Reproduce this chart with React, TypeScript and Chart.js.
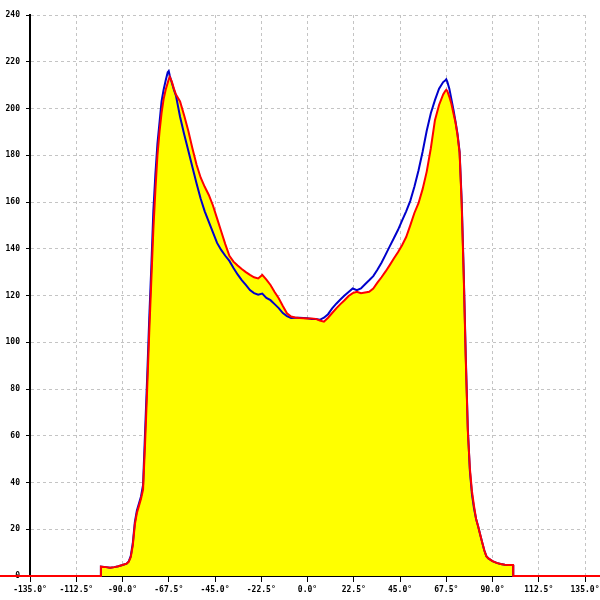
import React, { useEffect, useRef } from "react";
import { Chart, registerables } from "chart.js";

Chart.register(...registerables);

const angles = [
  -180, -100.6, -100.5, -98, -96, -94, -92, -90, -88, -87,
  -86, -85, -84, -83, -82, -81, -80, -79, -78, -77,
  -76, -75, -74, -73, -72, -71, -70, -69, -68, -67.5,
  -67, -66, -65, -64, -62, -60, -58, -56, -54, -52,
  -50, -48, -46, -44, -42, -40, -38, -36, -34, -32,
  -30, -28, -26, -24, -22, -20, -18, -16, -14, -12,
  -10, -8, -6, -4, -2, 0, 2, 4, 6, 8,
  10, 12, 14, 16, 18, 20, 22, 24, 26, 28,
  30, 32, 34, 36, 38, 40, 42, 44, 46, 48,
  50, 52, 54, 56, 58, 60, 62, 64, 66, 67,
  67.5, 68, 69, 70, 71, 72, 73, 74, 75, 76,
  77, 78, 79, 80, 81, 82, 83, 84, 85, 86,
  87, 88, 90, 92, 94, 96, 98, 100, 100.1, 180,
];

const redValues = [
  0, 0, 4, 3.8, 3.5, 3.8, 4.2, 4.7, 5.3, 6,
  8, 13, 22, 27, 30, 33, 37, 57, 80, 104,
  126, 148, 165, 180, 190, 198, 204, 208, 211, 212.5,
  213.5, 211.5, 208.5, 206, 203, 197, 190.5, 183, 176, 170.5,
  166.5, 163, 158.5, 153, 147.5, 142, 137, 134.5, 132.8, 131.3,
  130, 128.8, 127.8, 127.3, 128.8, 126.8, 124.5, 121.5, 118.8, 115.5,
  112.4, 111, 110.6, 110.4, 110.3, 110.2, 110.2, 110, 109.3, 108.8,
  110.5, 112.5, 114.5, 116.3, 118, 119.8, 121, 121.6, 121, 121.3,
  121.6, 123, 125.5, 127.8, 130.3, 133, 135.8, 138.5, 141.5, 145,
  150, 155.3, 159.5, 165.5, 173, 183, 195, 201.5, 206, 207.5,
  208, 207.5, 205, 202, 198, 194, 188.5, 181, 159.4, 128.5,
  92.5, 62, 46, 36.3, 30, 24.5, 21.3, 17.8, 14.3, 11,
  8.5, 7.5, 6.4, 5.6, 5.1, 4.8, 4.7, 4.7, 0, 0,
];

const blueValues = [
  0, 0, 4, 3.8, 3.5, 3.8, 4.2, 4.7, 5.3, 6.2,
  8.5, 14, 23, 28, 31, 34, 39, 62, 85, 110,
  132, 156, 172, 185, 194, 203, 208, 212, 215.5, 216,
  214, 211, 208, 205.5, 196.5, 189, 182, 175, 168, 161.5,
  156, 151.5, 147, 142.5, 139.5, 137, 134.8, 131.8, 129, 126.6,
  124.5, 122.3, 121, 120.3, 120.8, 119, 118, 116.3, 114.6, 112.5,
  111.2, 110.4, 110.5, 110.5, 110.4, 110.3, 110, 110, 109.6, 110.5,
  112, 114.5, 116.5, 118.3, 120, 121.5, 123, 122.3, 123, 124.8,
  126.5, 128.3, 131, 134, 137.5, 141, 144.5, 148, 152, 156,
  160.5, 166.5, 173.5, 181.5, 190.5, 198, 203.6, 208.5, 211.3, 212,
  212.5, 211.5, 208.5, 204, 199.5, 194.5, 189, 181.5, 161, 130,
  94, 63, 45, 35, 29, 24.5, 21.3, 17.8, 14.3, 11,
  8.5, 7.5, 6.4, 5.6, 5.1, 4.8, 4.7, 4.7, 0, 0,
];

const xMin = -135;
const xMax = 135;
const xStep = 22.5;
const yMin = 0;
const yMax = 240;
const yStep = 20;

export default function App() {
  const canvasRef = useRef<HTMLCanvasElement | null>(null);

  useEffect(() => {
    document.body.style.margin = "0";
    const canvas = canvasRef.current;
    if (!canvas) return;
    const font = { family: "'DejaVu Sans Mono', monospace", size: 8, weight: "bold" as const };
    const chart = new Chart(canvas, {
      type: "line",
      data: {
        datasets: [
          {
            label: "red",
            data: angles.map((a, i) => ({ x: a, y: redValues[i] })),
            borderColor: "#ff0000",
            backgroundColor: "#ffff00",
            borderWidth: 2,
            fill: "origin",
            pointRadius: 0,
            tension: 0,
            clip: false as any,
          },
          {
            label: "blue",
            data: angles.map((a, i) => ({ x: a, y: blueValues[i] })),
            borderColor: "#0000cc",
            borderWidth: 2,
            fill: false,
            pointRadius: 0,
            tension: 0,
            clip: false as any,
          },
        ],
      },
      options: {
        animation: false,
        responsive: false,
        devicePixelRatio: 1,
        layout: { padding: { top: 15, right: 15, left: 0, bottom: 0 } },
        plugins: {
          legend: { display: false },
          tooltip: { enabled: false },
          filler: { drawTime: "beforeDatasetsDraw" },
        } as any,
        scales: {
          x: {
            type: "linear",
            min: xMin,
            max: xMax,
            afterBuildTicks: (scale: any) => {
              const t = [];
              for (let v = xMin; v <= xMax + 1e-9; v += xStep) t.push({ value: v });
              scale.ticks = t;
            },
            afterFit: (scale: any) => {
              scale.height = 24;
              scale.paddingLeft = 0;
              scale.paddingRight = 0;
            },
            ticks: {
              autoSkip: false,
              maxRotation: 0,
              padding: 3,
              color: "#000",
              font,
              callback: (v: any) => Number(v).toFixed(1) + "°",
            },
            grid: {
              color: "#c4c4c4",
              lineWidth: 1,
              tickLength: 6,
              tickColor: "#000",
              tickWidth: 1,
            },
            border: { display: true, color: "#000", width: 2, dash: [3, 3] },
          },
          y: {
            type: "linear",
            min: yMin,
            max: yMax,
            afterBuildTicks: (scale: any) => {
              const t = [];
              for (let v = yMin; v <= yMax + 1e-9; v += yStep) t.push({ value: v });
              scale.ticks = t;
            },
            afterFit: (scale: any) => {
              scale.width = 30;
              scale.paddingTop = 0;
              scale.paddingBottom = 0;
            },
            ticks: {
              padding: 6,
              color: "#000",
              font,
              callback: (v: any) => String(v),
            },
            grid: {
              color: "#c4c4c4",
              lineWidth: 1,
              tickLength: 4,
              tickColor: "#000",
              tickWidth: 1,
            },
            border: { display: true, color: "#000", width: 2, dash: [3, 3] },
          },
        },
      },
    });
    return () => chart.destroy();
  }, []);

  return <canvas ref={canvasRef} width={600} height={600} style={{ display: "block" }} />;
}
